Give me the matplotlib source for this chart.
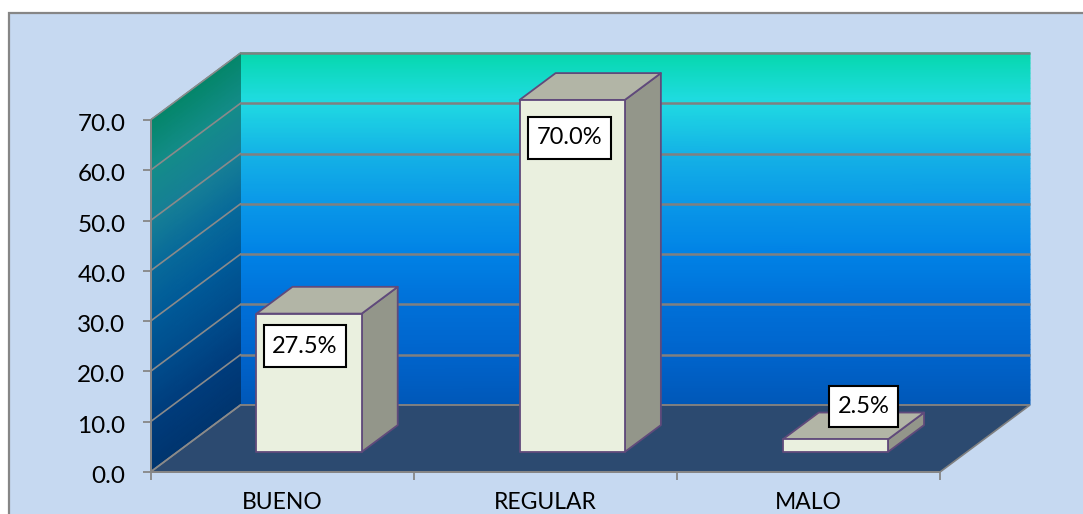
import numpy as np
import matplotlib
matplotlib.use("Agg")
import matplotlib.pyplot as plt
from matplotlib.colors import LinearSegmentedColormap
from matplotlib.patches import Rectangle
from matplotlib.transforms import ScaledTranslation

categories = ["BUENO", "REGULAR", "MALO"]
values = [27.5, 70.0, 2.5]
value_labels = ["27.5%", "70.0%", "2.5%"]
y_ticks = [0, 10, 20, 30, 40, 50, 60, 70]
label_offsets_px = [(-4, -30.5), (-3, -36), (28, 35)]

W, H = 1083, 514
plt.rcParams["font.family"] = ["Lato", "DejaVu Sans"]
fig = plt.figure(figsize=(W / 100, H / 100), dpi=100, facecolor="white")

# chart area background
fig.patches.append(Rectangle((8.5 / W, -0.1), 1.1, (H - 12.5) / H + 0.1, transform=fig.transFigure,
                             facecolor="#c6d9f1", edgecolor="#868686", linewidth=1.6, zorder=-5))

L, R, B, T = 150.5, 940.0, 472.0, 120.0
ax = fig.add_axes([L / W, 1 - B / H, (R - L) / W, (B - T) / H])
ax.set_xlim(0, 3)
ax.set_ylim(0, 70)
ax.patch.set_visible(False)

DX = 90 / ((R - L) / 3)   # x data units per unit of depth
DY = 67 / ((B - T) / 70)  # y data units per unit of depth


def proj(x, y, d):
    return x + d * DX, y + d * DY


back_stops = [(0, "#0058b8"), (10, "#0064cc"), (20, "#0070d8"), (30, "#0082e6"),
              (40, "#0a98e8"), (50, "#14b2e6"), (60.5, "#20dbe2"), (70, "#06d8ae")]
side_stops = [(0, "#00356f"), (10, "#003c7c"), (20, "#004c8c"), (30, "#005a98"),
              (40, "#086a9a"), (50, "#167f96"), (60, "#148c8a"), (70, "#04866a")]
cm_back = LinearSegmentedColormap.from_list("b", [(v / 70, c) for v, c in back_stops], N=512)
cm_side = LinearSegmentedColormap.from_list("s", [(v / 70, c) for v, c in side_stops], N=512)

vv = np.linspace(0, 70, 71)
# back wall
X, Y = np.meshgrid([0, 3], vv)
bx, by = proj(X, Y, 1)
m = ax.pcolormesh(bx, by, Y, cmap=cm_back, vmin=0, vmax=70, shading="gouraud", zorder=1)
m.set_clip_on(False)
# left wall
D, Y2 = np.meshgrid([0, 1], vv)
sx, sy = proj(0 * D, Y2, D)
m = ax.pcolormesh(sx, sy, Y2, cmap=cm_side, vmin=0, vmax=70, shading="gouraud", zorder=1)
m.set_clip_on(False)
ax.set_xlim(0, 3)
ax.set_ylim(0, 70)

# floor
fx, fy = zip(proj(0, 0, 0), proj(3, 0, 0), proj(3, 0, 1), proj(0, 0, 1))
ax.fill(fx, fy, facecolor="#2c4a70", edgecolor="#808080", linewidth=1.2, zorder=2, clip_on=False)

# gridlines
for v in y_ticks:
    gx, gy = zip(proj(0, v, 0), proj(0, v, 1), proj(3, v, 1))
    ax.plot(gx[:2], gy[:2], color="#8a8a8a", lw=1.2, zorder=3, clip_on=False)
    ax.plot(gx[1:], gy[1:], color="#808080", lw=1.8 if v else 1.2, zorder=3, clip_on=False,
            solid_capstyle="butt")

# bars
BAR_W, D0, D1 = 0.4, 0.3, 0.7
edge = "#604a7b"
for i, v in enumerate(values):
    x0 = i + 0.5 - BAR_W / 2
    x1 = i + 0.5 + BAR_W / 2
    faces = [
        ([(x1, 0, D0), (x1, 0, D1), (x1, v, D1), (x1, v, D0)], "#93968a"),
        ([(x0, v, D0), (x1, v, D0), (x1, v, D1), (x0, v, D1)], "#b2b5a6"),
        ([(x0, 0, D0), (x1, 0, D0), (x1, v, D0), (x0, v, D0)], "#eaf0df"),
    ]
    for pts, col in faces:
        px, py = zip(*[proj(*p) for p in pts])
        ax.fill(px, py, facecolor=col, edgecolor=edge, linewidth=1.3, joinstyle="round",
                zorder=4 + i * 0.1, clip_on=False)
    ox, oy = label_offsets_px[i]
    ax.annotate(value_labels[i], xy=proj(i + 0.5, v, D0),
                xytext=(ox * 72 / 100, oy * 72 / 100), textcoords="offset points",
                ha="center", va="center_baseline", fontsize=17, color="black", zorder=6,
                annotation_clip=False,
                bbox=dict(boxstyle="square,pad=0.36", mutation_aspect=1.2,
                          facecolor="white", edgecolor="black", linewidth=1.5))

ax.set_xlim(0, 3)
ax.set_ylim(0, 70)

# axes furniture
for s in ["top", "right"]:
    ax.spines[s].set_visible(False)
for s in ["left", "bottom"]:
    ax.spines[s].set_color("#868686")
    ax.spines[s].set_linewidth(1.4)
    ax.spines[s].set_zorder(3.5)
ax.set_yticks(y_ticks)
ax.set_yticklabels([f"{v:.1f}" for v in y_ticks])
ax.set_xticks([0, 1, 2, 3])
ax.set_xticklabels([])
ax.set_xticks([0.5, 1.5, 2.5], minor=True)
ax.set_xticklabels(categories, minor=True)
ax.tick_params(axis="y", length=6, width=1.3, color="#868686", labelsize=17.5, pad=12, labelcolor="black")
ax.tick_params(axis="x", which="major", length=5.5, width=1.3, color="#868686")
ax.tick_params(axis="x", which="minor", length=0, labelsize=16.5, pad=14.5, labelcolor="black")

# nudge the value-axis labels down to sit level with their ticks
shift = ScaledTranslation(0, -2.5 / 100, fig.dpi_scale_trans)
for lab in ax.get_yticklabels():
    lab.set_transform(lab.get_transform() + shift)

fig.savefig("out.png", dpi=100, facecolor="white")
